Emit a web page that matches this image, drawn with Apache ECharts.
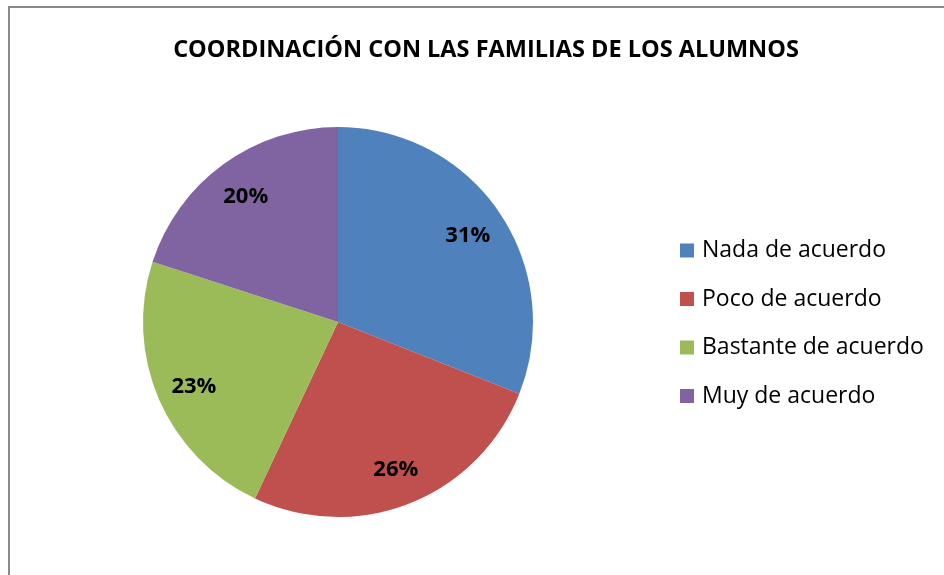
<!DOCTYPE html>
<html lang="es">
<head>
  <meta charset="UTF-8">
  <title>Coordinación con las familias de los alumnos</title>
  <script src="https://cdn.jsdelivr.net/npm/echarts@6/dist/echarts.min.js"></script>
  <style>
    html, body { margin: 0; padding: 0; background: #fff; }
    #chart { width: 944px; height: 575px; }
  </style>
</head>
<body>
<div id="chart"></div>

<script>
  var chart = echarts.init(document.getElementById('chart'));

  // datos
  var categorias = ['Nada de acuerdo', 'Poco de acuerdo', 'Bastante de acuerdo', 'Muy de acuerdo'];
  var valores = [31, 26, 23, 20];
  var colores = ['#4F81BD', '#C0504D', '#9BBB59', '#8064A2'];

  var datos = categorias.map(function (nombre, i) {
    return { name: nombre, value: valores[i] };
  });

  var option = {
    animation: false,
    color: colores,
    title: {
      text: 'COORDINACIÓN CON LAS FAMILIAS DE LOS ALUMNOS',
      left: 481,
      textAlign: 'center',
      top: 33,
      textStyle: {
        fontFamily: 'Open Sans',
        fontWeight: 'bold',
        fontSize: 23.5,
        color: '#000'
      }
    },
    legend: {
      orient: 'vertical',
      left: 675,
      top: 234,
      itemWidth: 14,
      itemHeight: 14,
      itemGap: 25.5,
      icon: 'rect',
      data: categorias,
      textStyle: {
        fontFamily: 'Open Sans',
        fontSize: 23,
        color: '#000',
        padding: [0, 0, 0, 3]
      }
    },
    graphic: [{
      type: 'rect',
      shape: { x: 9, y: 7, width: 1000, height: 1000 },
      style: { fill: 'none', stroke: '#898989', lineWidth: 2 },
      silent: true
    }],
    series: [
      {
        type: 'pie',
        center: [338, 322],
        radius: [0, 195],
        startAngle: 90,
        clockwise: true,
        label: { show: false },
        labelLine: { show: false },
        emphasis: { disabled: true },
        data: datos
      },
      {
        // serie invisible solo para colocar las etiquetas más afuera
        type: 'pie',
        center: [338, 324],
        radius: [0, 308],
        startAngle: 90,
        clockwise: true,
        silent: true,
        legendHoverLink: false,
        itemStyle: { color: 'rgba(0,0,0,0)' },
        label: {
          show: true,
          position: 'inner',
          formatter: '{c}%',
          fontFamily: 'Open Sans',
          fontWeight: 'bold',
          fontSize: 22,
          color: '#000'
        },
        labelLine: { show: false },
        emphasis: { disabled: true },
        data: datos
      }
    ]
  };

  chart.setOption(option);
</script>
</body>
</html>
